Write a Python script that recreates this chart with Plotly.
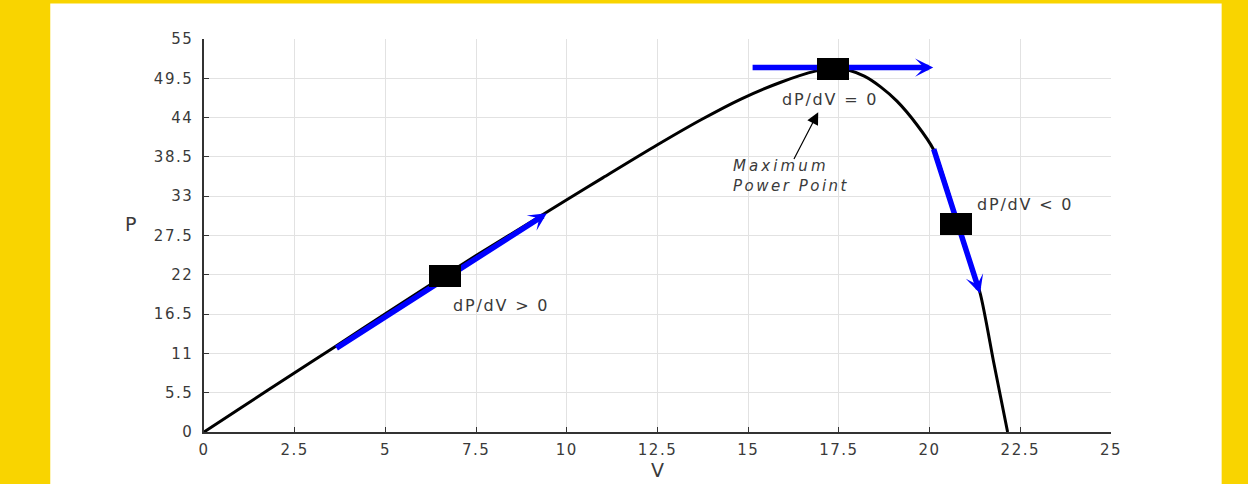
import plotly.graph_objects as go

# ---- data ----
V_curve = [0, 1, 2.5, 3.6, 5, 6.6, 7.5, 9.3, 10, 11, 12.5, 13.7, 14.8, 15.9, 16.85, 17.35,
           17.8, 18.2, 18.65, 19.1, 19.65, 20.1, 20.45, 20.75, 21.1, 21.4, 21.78, 22.15]
P_curve = [0, 3.32, 8.3, 11.9, 16.55, 21.8, 24.7, 30.3, 32.5, 35.6, 40.2, 43.7, 46.6, 48.95, 50.5, 50.9,
           50.6, 49.8, 48.3, 46.3, 43.0, 39.6, 34.6, 29.6, 24.1, 19.3, 9.4, 0]

x_ticks = [0, 2.5, 5, 7.5, 10, 12.5, 15, 17.5, 20, 22.5, 25]
x_ticklabels = ["0", "2.5", "5", "7.5", "10", "12.5", "15", "17.5", "20", "22.5", "25"]
y_ticks = [0, 5.5, 11, 16.5, 22, 27.5, 33, 38.5, 44, 49.5, 55]
y_ticklabels = ["0", "5.5", "11", "16.5", "22", "27.5", "33", "38.5", "44", "49.5", "55"]

# operating points (black squares)
op_V = [6.64, 17.34, 20.74]
op_P = [21.85, 50.75, 29.05]

# tangent arrows (tail -> tip)
arrow_tail_V = [3.61, 15.08, 20.1]
arrow_tail_P = [11.6, 51.0, 39.8]
arrow_tip_V = [9.45, 20.1, 21.39]
arrow_tip_P = [30.6, 51.0, 19.4]

# slope labels
slope_labels = ["dP/dV > 0", "dP/dV = 0", "dP/dV < 0"]
slope_label_V = [6.81, 15.87, 21.25]
slope_label_P = [17.64, 46.5, 31.87]

# maximum power point callout
mpp_text_V = 14.52
mpp_text_P = 35.8
mpp_arrow_tail = [16.24, 38.0]
mpp_arrow_tip = [16.93, 44.74]

# ---- styling ----
FONT = "DejaVu Sans, Liberation Sans, Arial, sans-serif"
TXT = "#3a3a3a"
YELLOW = "#F9D400"


def spaced(s, px):
    return f'<span style="letter-spacing:{px}px">{s}</span>'


fig = go.Figure()

fig.add_trace(go.Scatter(
    x=V_curve, y=P_curve, mode="lines",
    line=dict(color="black", width=3, shape="spline", smoothing=0.8),
    hoverinfo="skip", showlegend=False,
))

annotations = []
# blue tangent arrows
for tv, tp, hv, hp in zip(arrow_tail_V, arrow_tail_P, arrow_tip_V, arrow_tip_P):
    annotations.append(dict(
        x=hv, y=hp, ax=tv, ay=tp, xref="x", yref="y", axref="x", ayref="y",
        text="", showarrow=True, arrowhead=3, arrowsize=0.55, arrowwidth=5.5,
        arrowcolor="#0000FF",
    ))
# black squares
for v, p in zip(op_V, op_P):
    annotations.append(dict(
        x=v, y=p, xref="x", yref="y", text=" ", showarrow=False,
        width=32, height=22, bgcolor="black", borderpad=0, borderwidth=0,
        font=dict(size=1, color="black"), xanchor="center", yanchor="middle",
    ))
# slope labels
for s, v, p in zip(slope_labels, slope_label_V, slope_label_P):
    annotations.append(dict(
        x=v, y=p, xref="x", yref="y", text=spaced(s, 1.8), showarrow=False,
        xanchor="left", yanchor="middle",
        font=dict(family=FONT, size=16, color=TXT),
    ))
# MPP callout
annotations.append(dict(
    x=mpp_arrow_tip[0], y=mpp_arrow_tip[1], ax=mpp_arrow_tail[0], ay=mpp_arrow_tail[1],
    xref="x", yref="y", axref="x", ayref="y", text="", showarrow=True,
    arrowhead=2, arrowsize=2, arrowwidth=1.2, arrowcolor="black",
))
annotations.append(dict(
    x=mpp_text_V, y=mpp_text_P, xref="x", yref="y",
    text=spaced("<i>Maximum</i>", 3.1) + "<br>" + spaced("<i>Power Point</i>", 2.5),
    showarrow=False, xanchor="left", yanchor="middle", align="left",
    font=dict(family=FONT, size=15, color=TXT),
))
# axis labels
annotations.append(dict(
    x=0.5, y=-0.097, xref="paper", yref="paper", text="V", showarrow=False,
    xanchor="center", yanchor="middle", font=dict(family=FONT, size=19, color=TXT),
))
annotations.append(dict(
    x=-0.0813, y=0.529, xref="paper", yref="paper", text="P", showarrow=False,
    xanchor="center", yanchor="middle", font=dict(family=FONT, size=19, color=TXT),
))

axis_common = dict(
    showgrid=True, gridcolor="#e2e2e2", gridwidth=1, zeroline=False,
    showline=True, linecolor="#333333", linewidth=1.5,
    ticks="inside", ticklen=5, tickwidth=1.2, tickcolor="#333333",
    tickfont=dict(family=FONT, size=15, color=TXT),
)

fig.update_layout(
    width=1248, height=484,
    margin=dict(l=204, r=137, t=38.5, b=51.5),
    paper_bgcolor=YELLOW, plot_bgcolor="white",
    xaxis=dict(range=[0, 25], tickmode="array", tickvals=x_ticks,
               ticktext=[spaced(t, 1.5) for t in x_ticklabels], ticklabelstandoff=3,
               **axis_common),
    yaxis=dict(range=[0, 55], tickmode="array", tickvals=y_ticks,
               ticktext=[spaced(t, 1.5) for t in y_ticklabels], ticklabelstandoff=6,
               **axis_common),
    annotations=annotations,
    shapes=[dict(type="rect", xref="paper", yref="paper",
                 x0=-0.1695, x1=1.122, y0=-0.3, y1=1.0901,
                 fillcolor="white", line=dict(width=0), layer="below")],
    showlegend=False,
)

fig.write_html(
    "out.html",
    config={"displayModeBar": False},
    post_script="document.body.style.margin='0';document.body.style.padding='0';"
                "document.body.style.overflow='hidden';",
)
